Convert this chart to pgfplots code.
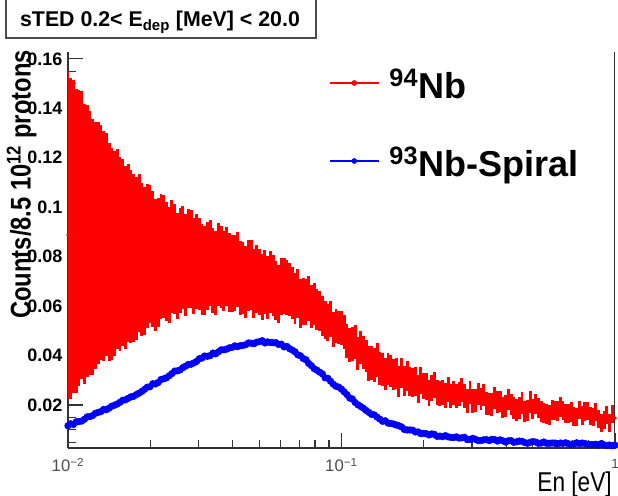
\documentclass[border=0pt]{standalone}
\usepackage{pgfplots}
\pgfplotsset{compat=1.18}
\usepackage{pgfplotstable}
\usepackage{graphicx}
\usepackage{fontspec}
\setmainfont{Liberation Sans}

\pgfplotstableread{
x r re b
1.000e-2 0.0888 0.0665 0.0116
1.023e-2 0.0874 0.0649 0.0124
1.047e-2 0.0882 0.0632 0.0121
1.072e-2 0.0863 0.0616 0.0132
1.096e-2 0.0876 0.0599 0.0133
1.122e-2 0.0889 0.0583 0.0135
1.148e-2 0.0852 0.0566 0.0142
1.175e-2 0.0865 0.0550 0.0152
1.202e-2 0.0855 0.0533 0.0153
1.230e-2 0.0840 0.0517 0.0157
1.259e-2 0.0844 0.0500 0.0166
1.288e-2 0.0855 0.0488 0.0170
1.318e-2 0.0856 0.0476 0.0173
1.349e-2 0.0843 0.0464 0.0182
1.380e-2 0.0849 0.0452 0.0181
1.413e-2 0.0819 0.0440 0.0187
1.445e-2 0.0812 0.0428 0.0195
1.479e-2 0.0813 0.0416 0.0199
1.514e-2 0.0832 0.0404 0.0204
1.549e-2 0.0811 0.0392 0.0211
1.585e-2 0.0817 0.0380 0.0219
1.622e-2 0.0797 0.0370 0.0221
1.660e-2 0.0813 0.0360 0.0227
1.698e-2 0.0802 0.0350 0.0233
1.738e-2 0.0795 0.0340 0.0235
1.778e-2 0.0793 0.0330 0.0242
1.820e-2 0.0814 0.0320 0.0248
1.862e-2 0.0789 0.0310 0.0255
1.905e-2 0.0783 0.0300 0.0263
1.950e-2 0.0803 0.0290 0.0272
1.995e-2 0.0810 0.0280 0.0274
2.042e-2 0.0791 0.0274 0.0286
2.089e-2 0.0768 0.0267 0.0285
2.138e-2 0.0775 0.0261 0.0291
2.188e-2 0.0801 0.0254 0.0303
2.239e-2 0.0800 0.0248 0.0306
2.291e-2 0.0781 0.0241 0.0310
2.344e-2 0.0766 0.0235 0.0318
2.399e-2 0.0800 0.0228 0.0327
2.455e-2 0.0790 0.0222 0.0337
2.512e-2 0.0762 0.0215 0.0338
2.570e-2 0.0784 0.0212 0.0342
2.630e-2 0.0795 0.0208 0.0351
2.692e-2 0.0767 0.0205 0.0357
2.754e-2 0.0793 0.0201 0.0364
2.818e-2 0.0792 0.0198 0.0365
2.884e-2 0.0763 0.0194 0.0370
2.951e-2 0.0780 0.0191 0.0376
3.020e-2 0.0770 0.0187 0.0387
3.090e-2 0.0750 0.0184 0.0390
3.162e-2 0.0745 0.0180 0.0398
3.236e-2 0.0764 0.0178 0.0397
3.311e-2 0.0775 0.0175 0.0400
3.388e-2 0.0745 0.0173 0.0410
3.467e-2 0.0733 0.0170 0.0407
3.548e-2 0.0770 0.0168 0.0415
3.631e-2 0.0758 0.0165 0.0423
3.715e-2 0.0742 0.0163 0.0423
3.802e-2 0.0761 0.0160 0.0426
3.890e-2 0.0736 0.0158 0.0431
3.981e-2 0.0733 0.0155 0.0433
4.074e-2 0.0734 0.0153 0.0439
4.169e-2 0.0748 0.0151 0.0436
4.266e-2 0.0714 0.0149 0.0440
4.365e-2 0.0714 0.0147 0.0441
4.467e-2 0.0698 0.0145 0.0444
4.571e-2 0.0725 0.0143 0.0451
4.677e-2 0.0727 0.0141 0.0450
4.786e-2 0.0691 0.0139 0.0448
4.898e-2 0.0711 0.0137 0.0454
5.012e-2 0.0698 0.0135 0.0456
5.129e-2 0.0676 0.0133 0.0460
5.248e-2 0.0698 0.0130 0.0451
5.370e-2 0.0676 0.0128 0.0455
5.495e-2 0.0698 0.0125 0.0453
5.623e-2 0.0685 0.0123 0.0452
5.754e-2 0.0662 0.0120 0.0452
5.888e-2 0.0649 0.0118 0.0445
6.026e-2 0.0680 0.0115 0.0446
6.166e-2 0.0680 0.0113 0.0435
6.310e-2 0.0675 0.0110 0.0437
6.457e-2 0.0666 0.0108 0.0428
6.607e-2 0.0652 0.0105 0.0422
6.761e-2 0.0629 0.0103 0.0415
6.918e-2 0.0651 0.0100 0.0403
7.079e-2 0.0610 0.0098 0.0399
7.244e-2 0.0618 0.0095 0.0388
7.413e-2 0.0618 0.0093 0.0383
7.586e-2 0.0631 0.0090 0.0368
7.762e-2 0.0599 0.0088 0.0359
7.943e-2 0.0607 0.0085 0.0347
8.128e-2 0.0587 0.0083 0.0341
8.318e-2 0.0580 0.0081 0.0333
8.511e-2 0.0560 0.0079 0.0326
8.710e-2 0.0543 0.0077 0.0310
8.913e-2 0.0532 0.0075 0.0308
9.120e-2 0.0547 0.0073 0.0296
9.333e-2 0.0505 0.0071 0.0284
9.550e-2 0.0520 0.0069 0.0276
9.772e-2 0.0513 0.0067 0.0272
1.000e-1 0.0510 0.0069 0.0264
1.023e-1 0.0496 0.0069 0.0253
1.047e-1 0.0458 0.0068 0.0242
1.072e-1 0.0443 0.0068 0.0228
1.096e-1 0.0446 0.0068 0.0224
1.122e-1 0.0454 0.0068 0.0210
1.148e-1 0.0407 0.0067 0.0201
1.175e-1 0.0433 0.0067 0.0194
1.202e-1 0.0413 0.0067 0.0187
1.230e-1 0.0398 0.0066 0.0178
1.259e-1 0.0369 0.0070 0.0170
1.288e-1 0.0371 0.0069 0.0162
1.318e-1 0.0361 0.0069 0.0160
1.349e-1 0.0381 0.0068 0.0151
1.380e-1 0.0347 0.0067 0.0143
1.413e-1 0.0345 0.0067 0.0134
1.445e-1 0.0325 0.0066 0.0136
1.479e-1 0.0345 0.0065 0.0127
1.514e-1 0.0338 0.0065 0.0125
1.549e-1 0.0323 0.0064 0.0123
1.585e-1 0.0329 0.0063 0.0119
1.622e-1 0.0294 0.0062 0.0116
1.660e-1 0.0329 0.0061 0.0111
1.698e-1 0.0298 0.0060 0.0101
1.738e-1 0.0317 0.0059 0.0099
1.778e-1 0.0295 0.0059 0.0099
1.820e-1 0.0290 0.0058 0.0098
1.862e-1 0.0295 0.0057 0.0091
1.905e-1 0.0264 0.0056 0.0091
1.950e-1 0.0299 0.0055 0.0084
1.995e-1 0.0277 0.0054 0.0085
2.042e-1 0.0274 0.0054 0.0084
2.089e-1 0.0250 0.0053 0.0079
2.138e-1 0.0269 0.0053 0.0083
2.188e-1 0.0280 0.0052 0.0081
2.239e-1 0.0251 0.0052 0.0073
2.291e-1 0.0248 0.0051 0.0074
2.344e-1 0.0249 0.0051 0.0072
2.399e-1 0.0237 0.0050 0.0076
2.455e-1 0.0262 0.0050 0.0071
2.512e-1 0.0237 0.0049 0.0069
2.570e-1 0.0248 0.0049 0.0068
2.630e-1 0.0237 0.0048 0.0071
2.692e-1 0.0244 0.0048 0.0066
2.754e-1 0.0260 0.0048 0.0067
2.818e-1 0.0236 0.0048 0.0069
2.884e-1 0.0216 0.0047 0.0060
2.951e-1 0.0250 0.0047 0.0061
3.020e-1 0.0216 0.0047 0.0065
3.090e-1 0.0219 0.0046 0.0061
3.162e-1 0.0244 0.0046 0.0056
3.236e-1 0.0224 0.0046 0.0056
3.311e-1 0.0240 0.0046 0.0059
3.388e-1 0.0206 0.0045 0.0060
3.467e-1 0.0204 0.0045 0.0056
3.548e-1 0.0202 0.0045 0.0061
3.631e-1 0.0227 0.0045 0.0060
3.715e-1 0.0212 0.0045 0.0054
3.802e-1 0.0214 0.0044 0.0059
3.890e-1 0.0190 0.0044 0.0055
3.981e-1 0.0197 0.0044 0.0050
4.074e-1 0.0222 0.0044 0.0055
4.169e-1 0.0202 0.0044 0.0056
4.266e-1 0.0187 0.0044 0.0049
4.365e-1 0.0181 0.0044 0.0051
4.467e-1 0.0188 0.0043 0.0054
4.571e-1 0.0208 0.0043 0.0053
4.677e-1 0.0175 0.0043 0.0048
4.786e-1 0.0178 0.0043 0.0045
4.898e-1 0.0212 0.0043 0.0049
5.012e-1 0.0183 0.0041 0.0052
5.129e-1 0.0204 0.0041 0.0050
5.248e-1 0.0188 0.0041 0.0045
5.370e-1 0.0174 0.0041 0.0046
5.495e-1 0.0167 0.0041 0.0050
5.623e-1 0.0165 0.0040 0.0045
5.754e-1 0.0159 0.0040 0.0045
5.888e-1 0.0179 0.0040 0.0046
6.026e-1 0.0178 0.0040 0.0046
6.166e-1 0.0176 0.0040 0.0043
6.310e-1 0.0192 0.0039 0.0046
6.457e-1 0.0177 0.0039 0.0045
6.607e-1 0.0167 0.0039 0.0047
6.761e-1 0.0165 0.0039 0.0043
6.918e-1 0.0172 0.0039 0.0041
7.079e-1 0.0153 0.0038 0.0042
7.244e-1 0.0151 0.0038 0.0047
7.413e-1 0.0180 0.0038 0.0044
7.586e-1 0.0156 0.0038 0.0046
7.762e-1 0.0173 0.0038 0.0044
7.943e-1 0.0175 0.0037 0.0041
8.128e-1 0.0156 0.0037 0.0040
8.318e-1 0.0150 0.0037 0.0040
8.511e-1 0.0171 0.0037 0.0041
8.710e-1 0.0142 0.0037 0.0038
8.913e-1 0.0128 0.0036 0.0044
9.120e-1 0.0139 0.0036 0.0039
9.333e-1 0.0161 0.0036 0.0036
9.550e-1 0.0127 0.0036 0.0038
9.772e-1 0.0162 0.0036 0.0035
1 0.0147 0.0036 0.0037
}\datatable

\begin{document}
\begin{tikzpicture}
\path[use as bounding box] (-51pt,-36pt) rectangle (412.5pt,336pt);
\begin{axis}[
  at={(0pt,0pt)}, anchor=south west, scale only axis,
  width=410.25pt, height=297pt,
  xmode=log, xmin=0.01, xmax=1, ymin=0.0026, ymax=0.1628,
  axis lines*=left,
  axis line style={black!80, line width=0.9pt},
  xtick={0.01,0.1,1},
  xticklabels={10\textsuperscript{−2},10\textsuperscript{−1},{\fontsize{10}{10}\selectfont\raisebox{3pt}{1}}},
  minor xtick={0.02,0.03,0.04,0.05,0.06,0.07,0.08,0.09,0.2,0.3,0.4,0.5,0.6,0.7,0.8,0.9},
  ytick={0.02,0.04,0.06,0.08,0.1,0.12,0.14,0.16},
  yticklabels={0.02,0.04,0.06,0.08,0.1,0.12,0.14,0.16},
  minor ytick={0.005,0.01,0.015,0.025,0.03,0.035,0.045,0.05,0.055,0.065,0.07,0.075,0.085,0.09,0.095,0.105,0.11,0.115,0.125,0.13,0.135,0.145,0.15,0.155},
  tick align=inside,
  major tick length=11pt, minor tick length=6pt,
  tick style={black!80, line width=0.8pt},
  xticklabel style={font=\fontsize{12.5}{13}\selectfont, text=black!70, anchor=base, inner sep=0pt, yshift=-18pt},
  yticklabel style={font=\bfseries\fontsize{13.5}{14}\selectfont, anchor=east, inner sep=0pt, xshift=-4pt},
  legend style={at={(0.4772,0.9487)}, anchor=north west, draw=none, fill=none,
    inner sep=0pt, outer sep=0pt, row sep=32.5pt, column sep=7.5pt,
    nodes={inner sep=0pt, text height=20pt, text depth=6pt, font=\bfseries\fontsize{27}{28}\selectfont},
    cells={anchor=base west}},
]
\addplot[only marks, mark=*, mark size=1.1pt, color=red,
  legend image code/.code={\draw[red, line width=1.1pt] (0pt,12pt) -- (36.75pt,12pt); \fill[red] (18.375pt,12pt) circle (1.9pt);},
  error bars/.cd, y dir=both, y explicit, error mark=none,
  error bar style={line width=2.2pt, red}]
  table[x=x, y=r, y error=re]{\datatable};
\addlegendentry{\textsuperscript{94}Nb}
\addplot[only marks, mark=*, mark size=2.5pt, color=blue,
  legend image code/.code={\draw[blue, line width=1.1pt] (0pt,12pt) -- (36.75pt,12pt); \fill[blue] (18.375pt,12pt) circle (1.9pt);},
  error bars/.cd, y dir=both, y fixed=0.0009, error mark=none,
  error bar style={line width=1.2pt, blue}]
  table[x=x, y=b]{\datatable};
\addlegendentry{\textsuperscript{93}Nb-Spiral}
\draw[black!80, line width=0.9pt] (rel axis cs:1,0) -- (rel axis cs:1,1);
\end{axis}
\draw[black!70, line width=1pt, fill=white] (-46.5pt,307.5pt) rectangle (186pt,345pt);
\node[anchor=base, inner sep=0pt, font=\bfseries\fontsize{16}{17}\selectfont] at (69pt,315.75pt) {sTED 0.2< E\textsubscript{dep} [MeV] < 20.0};
\node[rotate=90, anchor=base east, inner sep=0pt, font=\bfseries\fontsize{17.8}{18}\selectfont] at (-28pt,298.5pt) {\scalebox{1}[1.2]{Counts/8.5 10\textsuperscript{12} protons}};
\node[anchor=base east, inner sep=0pt, font=\fontsize{17}{18}\selectfont] at (408pt,-33pt) {\scalebox{1}[1.2]{En [eV]}};
\end{tikzpicture}
\end{document}
